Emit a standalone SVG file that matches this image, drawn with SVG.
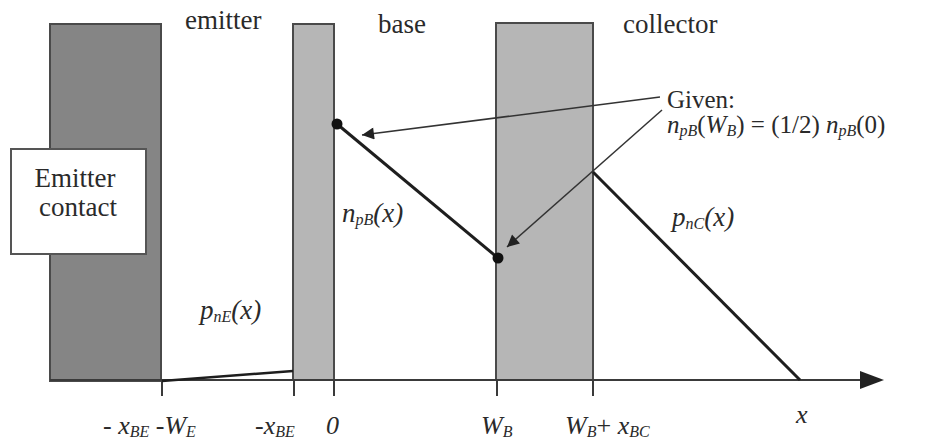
<svg xmlns="http://www.w3.org/2000/svg" width="926" height="444" viewBox="0 0 926 444">
<defs>
  <marker id="ah" viewBox="0 0 10 10" refX="10" refY="5" markerWidth="14" markerHeight="12" markerUnits="userSpaceOnUse" orient="auto">
    <path d="M0,0 L10,5 L0,10 z" fill="#222"/>
  </marker>
</defs>
<rect width="926" height="444" fill="#ffffff"/>

<g id="emitter-region">
  <rect x="50" y="24" width="111" height="357" fill="#858585" stroke="#4a4a4a" stroke-width="2"/>
  <text x="185" y="29" font-size="27" fill="#2a2a2a" style="font-family:serif">emitter</text>
</g>
<g id="base-depletion">
  <rect x="293" y="24" width="41" height="356" fill="#b6b6b6" stroke="#4a4a4a" stroke-width="2"/>
  <text x="378" y="33" font-size="27" fill="#2a2a2a" style="font-family:serif">base</text>
</g>
<g id="collector-depletion">
  <rect x="496" y="23" width="97" height="357" fill="#b6b6b6" stroke="#4a4a4a" stroke-width="2"/>
  <text x="623" y="33" font-size="27" fill="#2a2a2a" style="font-family:serif">collector</text>
</g>
<g id="emitter-contact">
  <rect x="11" y="149" width="135" height="105" fill="#ffffff" stroke="#555" stroke-width="2"/>
  <text x="75" y="187" font-size="27" text-anchor="middle" fill="#2a2a2a" style="font-family:serif">Emitter</text>
  <text x="78" y="216" font-size="27" text-anchor="middle" fill="#2a2a2a" style="font-family:serif">contact</text>
</g>

<g id="connectors" fill="none">
  <g stroke="#3a3a3a" stroke-width="2">
    <line x1="50" y1="380" x2="866" y2="380"/>
    <line x1="162" y1="380" x2="162" y2="396"/>
    <line x1="294" y1="380" x2="294" y2="396"/>
    <line x1="334" y1="380" x2="334" y2="396"/>
    <line x1="497" y1="380" x2="497" y2="396"/>
    <line x1="593" y1="380" x2="593" y2="396"/>
  </g>
  <path d="M860,371 L884,380 L860,389 z" fill="#222"/>
  <g stroke="#1e1e1e" stroke-width="3">
    <line x1="162" y1="381" x2="293" y2="371" stroke-width="2.5"/>
    <line x1="337" y1="124" x2="498" y2="258"/>
    <line x1="593" y1="172" x2="800" y2="380"/>
  </g>
  <circle cx="337" cy="124" r="5.5" fill="#111"/>
  <circle cx="498" cy="258" r="5.5" fill="#111"/>
  <g stroke="#333" stroke-width="1.5">
    <line x1="660" y1="97" x2="362" y2="135" marker-end="url(#ah)"/>
    <line x1="662" y1="110" x2="507" y2="247" marker-end="url(#ah)"/>
  </g>
</g>

<g id="given-label">
  <text x="667" y="108" font-size="25" fill="#2a2a2a" style="font-family:serif">Given:</text>
  <text x="667" y="133" font-size="25" fill="#2a2a2a" style="font-family:serif"><tspan font-style="italic">n</tspan><tspan font-size="16" font-style="italic" dy="3">pB</tspan><tspan dy="-3">(</tspan><tspan font-style="italic">W</tspan><tspan font-size="16" font-style="italic" dy="3">B</tspan><tspan dy="-3">) = (1/2) </tspan><tspan font-style="italic">n</tspan><tspan font-size="16" font-style="italic" dy="3">pB</tspan><tspan dy="-3">(0)</tspan></text>
</g>
<g id="npB-label">
  <text x="342" y="222" font-size="27" fill="#2a2a2a" font-style="italic" style="font-family:serif">n<tspan font-size="16" dy="3">pB</tspan><tspan dy="-3">(x)</tspan></text>
</g>
<g id="pnC-label">
  <text x="672" y="226" font-size="27" fill="#2a2a2a" font-style="italic" style="font-family:serif">p<tspan font-size="16" dy="3">nC</tspan><tspan dy="-3">(x)</tspan></text>
</g>
<g id="pnE-label">
  <text x="200" y="319" font-size="27" fill="#2a2a2a" font-style="italic" style="font-family:serif">p<tspan font-size="16" dy="3">nE</tspan><tspan dy="-3">(x)</tspan></text>
</g>
<g id="axis-labels">
  <text x="103" y="434" font-size="26" fill="#2a2a2a" style="font-family:serif">- <tspan font-style="italic">x</tspan><tspan font-size="16" font-style="italic" dy="3">BE</tspan><tspan font-style="italic" dy="-3"> -W</tspan><tspan font-size="16" font-style="italic" dy="3">E</tspan></text>
  <text x="255" y="434" font-size="26" font-style="italic" fill="#2a2a2a" style="font-family:serif">-x<tspan font-size="16" dy="3">BE</tspan></text>
  <text x="326" y="434" font-size="26" font-style="italic" fill="#2a2a2a" style="font-family:serif">0</text>
  <text x="481" y="434" font-size="26" font-style="italic" fill="#2a2a2a" style="font-family:serif">W<tspan font-size="16" dy="3">B</tspan></text>
  <text x="565" y="434" font-size="26" fill="#2a2a2a" style="font-family:serif"><tspan font-style="italic">W</tspan><tspan font-size="16" font-style="italic" dy="3">B</tspan><tspan dy="-3">+ </tspan><tspan font-style="italic">x</tspan><tspan font-size="16" font-style="italic" dy="3">BC</tspan></text>
  <text x="796" y="423" font-size="26" font-style="italic" fill="#2a2a2a" style="font-family:serif">x</text>
</g>
</svg>
